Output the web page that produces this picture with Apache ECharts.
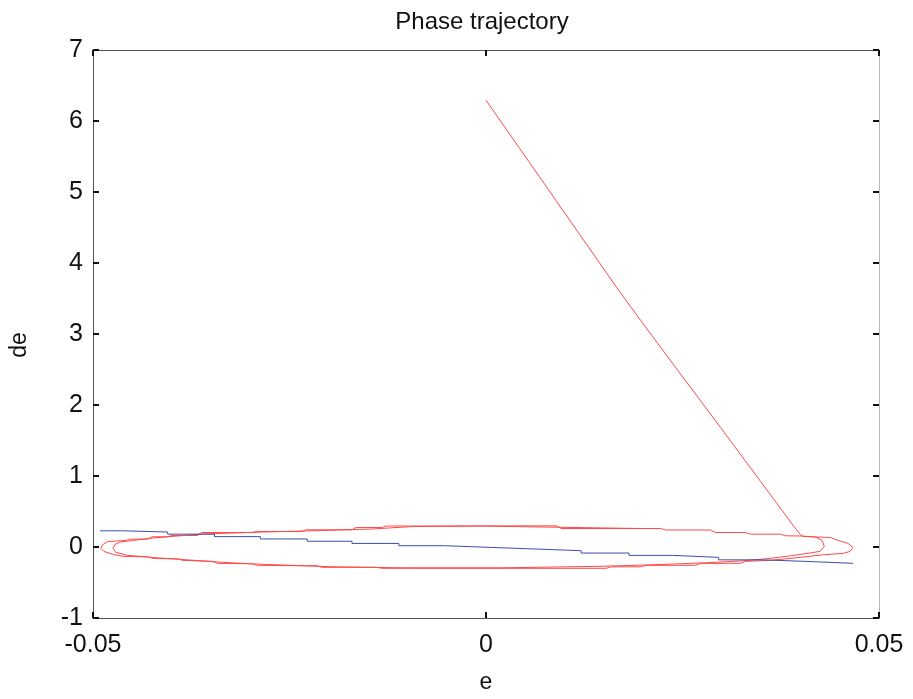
<!DOCTYPE html>
<html>
<head>
<meta charset="utf-8">
<script src="https://cdn.jsdelivr.net/npm/echarts@6.0.0/dist/echarts.min.js"></script>
<style>
  html, body { margin: 0; padding: 0; background: #fff; }
  #chart { width: 913px; height: 699px; }
</style>
</head>
<body>
<div id="chart"></div>
<script>
// axis ticks
const xTicks = [-0.05, 0, 0.05];
const yTicks = [-1, 0, 1, 2, 3, 4, 5, 6, 7];

// red trajectory: approach from (0, 6.3) then two laps of the chattering loop
const redE = [
  0, 0.01676, 0.01971, 0.02389, 0.02816, 0.02985, 0.03196, 0.03323, 0.03492, 0.03703,
  0.03830, 0.03910, 0.03999, 0.04037, 0.04379, 0.04480, 0.04607, 0.04670, 0.04632, 0.04544,
  0.04278, 0.03999, 0.03619, 0.03302, 0.03238, 0.02731, 0.02668, 0.02034, 0.01971, 0.01591,
  0.01527, -0.01324, -0.01388, -0.02085, -0.02148, -0.02909, -0.02972, -0.03416, -0.03479, -0.03859,
  -0.03923, -0.04240, -0.04303, -0.04620, -0.04747, -0.04861, -0.04899, -0.04873, -0.04810, -0.04582,
  -0.04531, -0.04303, -0.04252, -0.04049, -0.03999, -0.03669, -0.03619, -0.02972, -0.02921, -0.02338,
  -0.02288, -0.01705, -0.01654, -0.01324, -0.01274, 0.00894, 0.00957, 0.02224, 0.02288, 0.02858,
  0.02921, 0.03302, 0.03365, 0.03745, 0.03809, 0.03999,
  0.04189, 0.04278, 0.04303, 0.04252, 0.04125, 0.03872, 0.03555, 0.03264, 0.02795, 0.02098,
  0.01464, 0.00196, -0.01071, -0.01958, -0.02845, -0.03352, -0.03796, -0.04176, -0.04556, -0.04708,
  -0.04747, -0.04721, -0.04645, -0.04493, -0.04240, -0.03923, -0.03606, -0.02845, -0.02085, -0.01451,
  -0.00944, -0.00057, 0.01971
];
const redDe = [
  6.293, 3.634, 3.186, 2.563, 1.933, 1.681, 1.366, 1.177, 0.925, 0.610,
  0.421, 0.302, 0.176, 0.148, 0.134, 0.092, 0.050, -0.006, -0.062, -0.090,
  -0.111, -0.146, -0.188, -0.202, -0.230, -0.230, -0.258, -0.258, -0.279, -0.279,
  -0.300, -0.300, -0.286, -0.286, -0.265, -0.258, -0.237, -0.230, -0.202, -0.188,
  -0.167, -0.160, -0.139, -0.132, -0.104, -0.062, -0.020, 0.036, 0.078, 0.092,
  0.111, 0.111, 0.144, 0.144, 0.162, 0.162, 0.204, 0.204, 0.218, 0.218,
  0.242, 0.242, 0.274, 0.274, 0.295, 0.298, 0.260, 0.260, 0.239, 0.239,
  0.204, 0.204, 0.181, 0.181, 0.158, 0.155,
  0.141, 0.092, 0.008, -0.062, -0.083, -0.125, -0.167, -0.195, -0.223, -0.251,
  -0.272, -0.293, -0.293, -0.279, -0.244, -0.216, -0.181, -0.153, -0.118, -0.076,
  -0.020, 0.036, 0.071, 0.092, 0.127, 0.155, 0.183, 0.211, 0.232, 0.253,
  0.288, 0.295, 0.260
];

// blue staircase (sliding line), each value holds until the next breakpoint
const blueE = [
  -0.04911, -0.04620, -0.04050, -0.03454, -0.02871, -0.02275, -0.01705, -0.01109, -0.00526,
  0.00070, 0.00640, 0.01210, 0.01819, 0.02376, 0.02960, 0.03530, 0.04151, 0.04671
];
const blueDe = [
  0.228, 0.211, 0.181, 0.146, 0.113, 0.081, 0.050, 0.018, -0.006,
  -0.029, -0.052, -0.085, -0.118, -0.146, -0.181, -0.206, -0.230, -0.230
];

const FONT = 'Liberation Sans';
const AXIS_DARK = '#555';

function zip(xs, ys) {
  return xs.map((x, i) => [x, ys[i]]);
}

function valueAxis(min, max, interval, extra) {
  return Object.assign({
    type: 'value',
    min,
    max,
    interval,
    axisLine: { show: true, onZero: false, lineStyle: { color: AXIS_DARK, width: 1 } },
    axisTick: { show: true, inside: true, length: 6, lineStyle: { color: '#111', width: 2 } },
    splitLine: { show: false },
    axisLabel: { show: false },
  }, extra);
}

const chart = echarts.init(document.getElementById('chart'), null, { renderer: 'canvas' });

chart.setOption({
  animation: false,
  backgroundColor: '#fff',
  title: {
    text: 'Phase trajectory',
    left: 477,
    top: 5,
    textAlign: 'center',
    textStyle: { fontFamily: FONT, fontSize: 24, fontWeight: 'normal', color: '#111' },
  },
  grid: { left: 90, right: 34, top: 50, bottom: 78 },
  xAxis: [
    valueAxis(xTicks[0], xTicks[xTicks.length - 1], 0.05, {
      position: 'bottom',
      name: 'e',
      nameLocation: 'middle',
      nameGap: 53,
      nameTextStyle: { fontFamily: FONT, fontSize: 23, color: '#111' },
      axisLabel: {
        show: true,
        margin: 15,
        fontFamily: FONT,
        fontSize: 25,
        color: '#111',
        formatter: (v) => (Math.abs(v) < 1e-9 ? '0' : String(+v.toFixed(2))),
      },
    }),
    valueAxis(xTicks[0], xTicks[xTicks.length - 1], 0.05, { position: 'top' }),
  ],
  yAxis: [
    valueAxis(yTicks[0], yTicks[yTicks.length - 1], 1, {
      position: 'left',
      name: 'de',
      nameLocation: 'middle',
      nameRotate: 90,
      nameGap: 62,
      nameTextStyle: { fontFamily: FONT, fontSize: 23, color: '#111', padding: [0, 22, 0, 0] },
      axisLabel: { show: true, margin: 10, fontFamily: FONT, fontSize: 25, color: '#111' },
    }),
    valueAxis(yTicks[0], yTicks[yTicks.length - 1], 1, {
      position: 'right',
      axisLine: { show: true, onZero: false, lineStyle: { color: '#b5b5b5', width: 1 } },
    }),
  ],
  series: [
    {
      name: 'trajectory',
      type: 'line',
      data: zip(redE, redDe),
      showSymbol: false,
      symbol: 'none',
      lineStyle: { color: '#ff4a4a', width: 1 },
      z: 2,
    },
    {
      name: 'sliding line',
      type: 'line',
      step: 'end',
      data: zip(blueE, blueDe),
      showSymbol: false,
      symbol: 'none',
      lineStyle: { color: '#3a4fb0', width: 1 },
      z: 3,
    },
  ],
});
</script>
</body>
</html>
